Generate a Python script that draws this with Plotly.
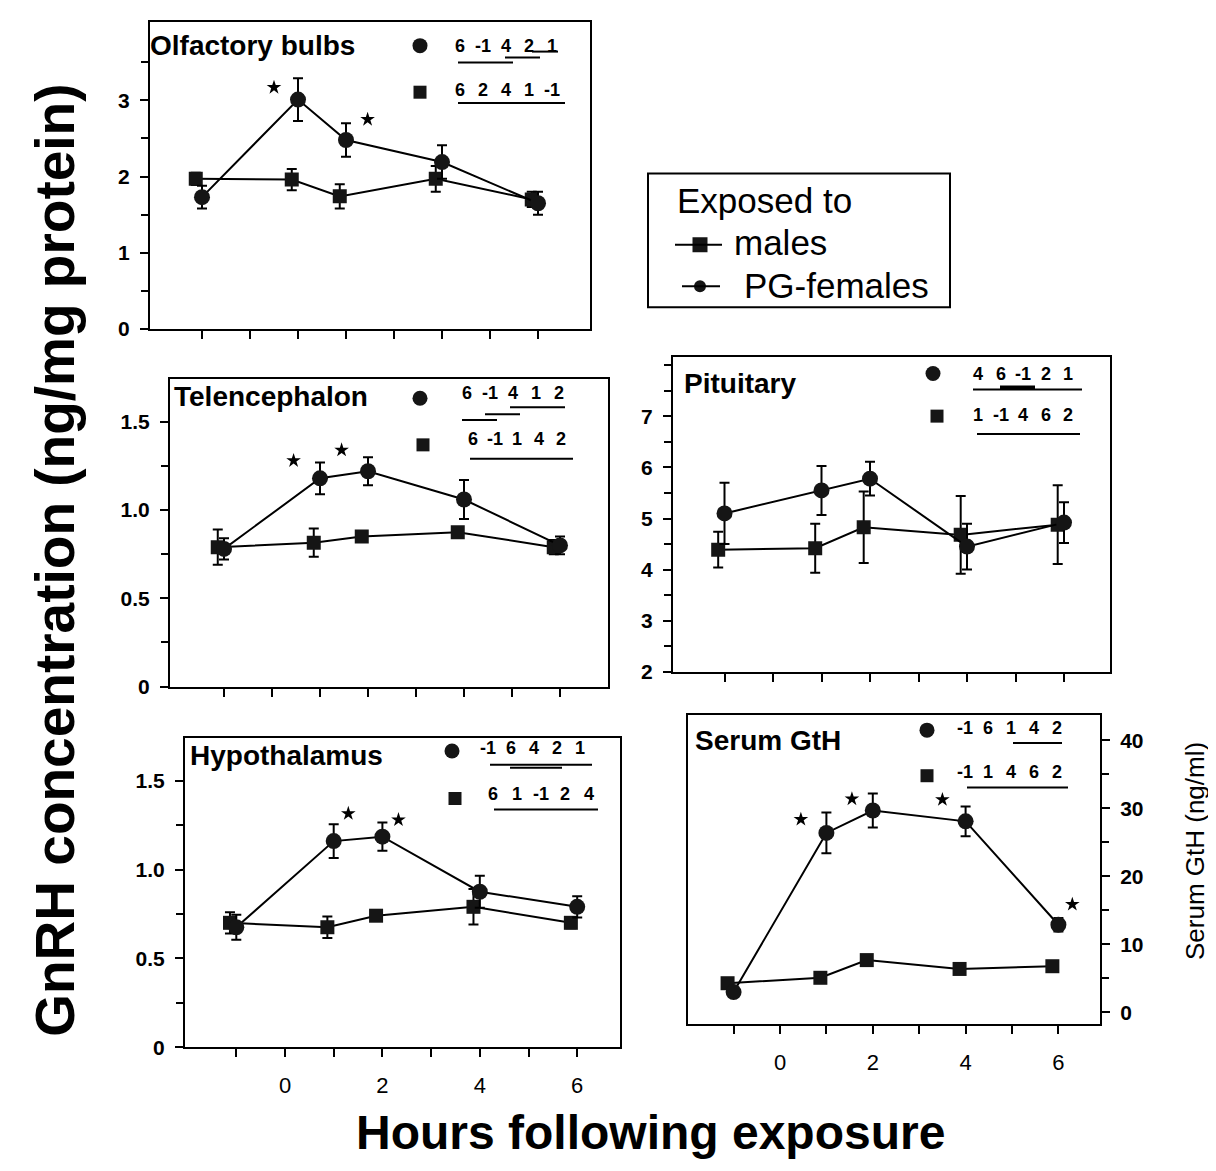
import plotly.graph_objects as go

W, H = 1216, 1171
OFF = 8  # page offset of the plot div (default body margin)
FONT = "Liberation Sans, Arial, sans-serif"

# ---------------- data ----------------
hours = [-1, 1, 2, 4, 6]

olf_fem = [1.73, 3.01, 2.48, 2.19, 1.65]
olf_fem_se = [0.15, 0.28, 0.22, 0.22, 0.15]
olf_male = [1.97, 1.96, 1.74, 1.97, 1.70]
olf_male_se = [0.08, 0.14, 0.16, 0.17, 0.10]

tel_fem = [0.78, 1.18, 1.22, 1.06, 0.80]
tel_fem_se = [0.06, 0.09, 0.08, 0.11, 0.05]
tel_male = [0.79, 0.815, 0.85, 0.875, 0.79]
tel_male_se = [0.10, 0.08, 0.02, 0.02, 0.04]

pit_fem = [5.10, 5.55, 5.78, 4.45, 4.92]
pit_fem_se = [0.60, 0.48, 0.33, 0.45, 0.40]
pit_male = [4.39, 4.42, 4.83, 4.68, 4.88]
pit_male_se = [0.35, 0.48, 0.70, 0.76, 0.77]

hyp_fem = [0.675, 1.16, 1.185, 0.875, 0.79]
hyp_fem_se = [0.07, 0.095, 0.08, 0.09, 0.06]
hyp_male = [0.70, 0.675, 0.74, 0.79, 0.70]
hyp_male_se = [0.06, 0.06, 0.02, 0.10, 0.03]

gth_fem = [3.0, 26.4, 29.7, 28.1, 12.9]
gth_fem_se = [0.5, 3.0, 2.5, 2.2, 1.0]
gth_male = [4.3, 5.1, 7.7, 6.4, 6.8]
gth_male_se = [0.4, 0.4, 0.5, 0.4, 0.4]

panel_titles = ["Olfactory bulbs", "Telencephalon", "Pituitary", "Hypothalamus", "Serum GtH"]

# ranking rows (circle row, square row)
olf_rank = (["6", "-1", "4", "2", "1"], ["6", "2", "4", "1", "-1"])
tel_rank = (["6", "-1", "4", "1", "2"], ["6", "-1", "1", "4", "2"])
pit_rank = (["4", "6", "-1", "2", "1"], ["1", "-1", "4", "6", "2"])
hyp_rank = (["-1", "6", "4", "2", "1"], ["6", "1", "-1", "2", "4"])
gth_rank = (["-1", "6", "1", "4", "2"], ["-1", "1", "4", "6", "2"])

# significant time points (females vs males)
olf_sig = [1, 2]
tel_sig = [1, 2]
pit_sig = []
hyp_sig = [1, 2]
gth_sig = [1, 2, 4, 6]

x_tick_vals = [0, 2, 4, 6]
x_minor_vals = [-1, 1, 3, 5]

# ---------------- layout geometry (page pixels) ----------------
panels = [
    dict(box=(150, 22, 590, 332), x0=250, pxh=48.0, yr=[0, 4.03],
         fem=olf_fem, fse=olf_fem_se, mal=olf_male, mse=olf_male_se,
         yt=[0, 1, 2, 3], ytt=["0", "1", "2", "3"], ym=[0.5, 1.5, 2.5, 3.5],
         rank=olf_rank, sig=olf_sig,
         star_off=[(-0.5, -0.12), (0.45, 0.05)]),
    dict(box=(170, 383, 608, 693), x0=272, pxh=48.0, yr=[0, 1.74],
         fem=tel_fem, fse=tel_fem_se, mal=tel_male, mse=tel_male_se,
         yt=[0, 0.5, 1.0, 1.5], ytt=["0", "0.5", "1.0", "1.5"], ym=[0.25, 0.75, 1.25],
         rank=tel_rank, sig=tel_sig,
         star_off=[(-0.55, 0.01), (-0.55, 0.04)]),
    dict(box=(673, 360, 1110, 678), x0=773, pxh=48.5, yr=[2, 8.17],
         fem=pit_fem, fse=pit_fem_se, mal=pit_male, mse=pit_male_se,
         yt=[2, 3, 4, 5, 6, 7], ytt=["2", "3", "4", "5", "6", "7"],
         ym=[2.5, 3.5, 4.5, 5.5, 6.5, 7.5, 8],
         rank=pit_rank, sig=pit_sig, star_off=[]),
    dict(box=(185, 745, 620, 1057), x0=285, pxh=48.7, yr=[0, 1.74],
         fem=hyp_fem, fse=hyp_fem_se, mal=hyp_male, mse=hyp_male_se,
         yt=[0, 0.5, 1.0, 1.5], ytt=["0", "0.5", "1.0", "1.5"], ym=[0.25, 0.75, 1.25],
         rank=hyp_rank, sig=hyp_sig,
         star_off=[(0.3, 0.06), (0.33, 0.015)]),
    dict(box=(688, 722, 1100, 1034), x0=780, pxh=46.4, yr=[-1.75, 43.7],
         fem=gth_fem, fse=gth_fem_se, mal=gth_male, mse=gth_male_se,
         yt=[0, 10, 20, 30, 40], ytt=["0", "10", "20", "30", "40"], ym=[5, 15, 25, 35],
         rank=gth_rank, sig=gth_sig,
         star_off=[(-0.55, -1.0), (-0.45, -0.8), (-0.5, 1.0), (0.3, 2.0)]),
]

title_pos = [(148, 46), (172, 400), (682, 387), (188, 763), (693, 747)]
rank_marker_pos = [((420, 46), (420, 93)), ((420, 402), (423, 449)), ((933, 377), (937, 420)),
                   ((452, 758), (455, 806)), ((927, 737), (927, 783))]
rank_text_pos = [((460, 46, 23), (460, 91, 23)), ((467, 397, 23), (473, 443, 22)),
                 ((978, 377, 22.5), (978, 419, 22.5)), ((488, 755, 23), (493, 801, 24)),
                 ((965, 735, 23), (965, 779, 23))]
underlines = [
    [(458, 513, 63, 2), (505, 540, 58, 2), (532, 558, 52, 2), (458, 565, 104, 2)],
    [(462, 497, 424, 2), (485, 520, 418, 2), (510, 565, 411, 2), (470, 573, 463, 2)],
    [(973, 1082, 393, 2), (1000, 1035, 391, 4), (977, 1080, 438, 2)],
    [(490, 592, 772, 2), (510, 562, 775, 2), (494, 598, 817, 2)],
    [(1013, 1062, 750, 2), (967, 1068, 795, 2)],
]

SQ_OFF = -0.13

fig = go.Figure()
layout = dict(width=W, height=H, margin=dict(l=0, r=0, t=0, b=0),
              paper_bgcolor="white", plot_bgcolor="rgba(0,0,0,0)", showlegend=False,
              font=dict(family=FONT, color="black"))
annotations = []
shapes = []

for i, p in enumerate(panels):
    k = i + 1
    L, T, R, B = p["box"]
    xr = [(L - p["x0"]) / p["pxh"], (R - p["x0"]) / p["pxh"]]
    xa = "x" if k == 1 else f"x{k}"
    ya = "y" if k == 1 else f"y{k}"
    bottom = k in (4, 5)
    layout["xaxis" if k == 1 else f"xaxis{k}"] = dict(
        domain=[(L - OFF) / W, (R - OFF) / W], range=xr, anchor=ya,
        showline=True, linecolor="black", linewidth=2, mirror=True,
        ticks="outside", ticklen=8, tickwidth=2, tickcolor="black",
        tickvals=x_tick_vals, ticktext=[str(v) for v in x_tick_vals],
        showticklabels=bottom, ticklabelstandoff=9,
        tickfont=dict(family=FONT, size=22, color="black"),
        minor=dict(tickvals=x_minor_vals, ticks="outside", ticklen=8, tickwidth=2, tickcolor="black"),
        showgrid=False, zeroline=False, fixedrange=True)
    layout["yaxis" if k == 1 else f"yaxis{k}"] = dict(
        domain=[1 - (B - OFF) / H, 1 - (T - OFF) / H], range=p["yr"], anchor=xa,
        side="right" if k == 5 else "left",
        showline=True, linecolor="black", linewidth=2, mirror=True,
        ticks="outside", ticklen=8, tickwidth=2, tickcolor="black",
        tickvals=p["yt"], ticktext=p["ytt"], ticklabelstandoff=6,
        tickfont=dict(family=FONT, size=21, color="black", weight="bold"),
        minor=dict(tickvals=p["ym"], ticks="outside", ticklen=7, tickwidth=2, tickcolor="black"),
        showgrid=False, zeroline=False, fixedrange=True)

    # males (squares)
    fig.add_trace(go.Scatter(
        x=[t + SQ_OFF for t in hours], y=p["mal"], xaxis=xa, yaxis=ya,
        mode="lines+markers", line=dict(color="black", width=2),
        marker=dict(symbol="square", size=14, color="#151515"),
        error_y=dict(type="data", array=p["mse"], visible=True, thickness=2, width=5, color="black"),
        name="males"))
    # PG-females (circles)
    fig.add_trace(go.Scatter(
        x=hours, y=p["fem"], xaxis=xa, yaxis=ya,
        mode="lines+markers", line=dict(color="black", width=2),
        marker=dict(symbol="circle", size=16, color="#151515"),
        error_y=dict(type="data", array=p["fse"], visible=True, thickness=2, width=5, color="black"),
        name="PG-females"))
    # significance stars
    if p["sig"]:
        sx, sy = [], []
        for t, (dx, dy) in zip(p["sig"], p["star_off"]):
            j = hours.index(t)
            sx.append(t + dx)
            sy.append(p["fem"][j] + p["fse"][j] + dy)
        fig.add_trace(go.Scatter(x=sx, y=sy, xaxis=xa, yaxis=ya, mode="markers",
                                 marker=dict(symbol="star", size=11, color="black"),
                                 hoverinfo="skip"))

# overlay canvas in page-pixel coordinates for decorations
layout["xaxis6"] = dict(domain=[0, 1], range=[OFF, W + OFF], anchor="y6", visible=False, fixedrange=True)
layout["yaxis6"] = dict(domain=[0, 1], range=[H + OFF, OFF], anchor="x6", visible=False, fixedrange=True)

for i, p in enumerate(panels):
    tx, ty = title_pos[i]
    annotations.append(dict(x=tx, y=ty, xref="x6", yref="y6", text=panel_titles[i], showarrow=False,
                            xanchor="left", yanchor="middle",
                            font=dict(family=FONT, size=28, color="black", weight="bold")))
    (cx, cy), (qx, qy) = rank_marker_pos[i]
    fig.add_trace(go.Scatter(x=[cx], y=[cy], xaxis="x6", yaxis="y6", mode="markers",
                             marker=dict(symbol="circle", size=15, color="#151515"), hoverinfo="skip"))
    fig.add_trace(go.Scatter(x=[qx], y=[qy], xaxis="x6", yaxis="y6", mode="markers",
                             marker=dict(symbol="square", size=13, color="#151515"), hoverinfo="skip"))
    for row, (x0, yy, step) in zip(p["rank"], rank_text_pos[i]):
        for n, tok in enumerate(row):
            annotations.append(dict(x=x0 + n * step, y=yy, xref="x6", yref="y6", text=tok,
                                    showarrow=False, xanchor="center", yanchor="middle",
                                    font=dict(family=FONT, size=18, color="black", weight="bold")))
    for (a, b, yy, w) in underlines[i]:
        shapes.append(dict(type="line", xref="x6", yref="y6", x0=a, x1=b, y0=yy, y1=yy,
                           line=dict(color="black", width=w)))

# legend box
shapes.append(dict(type="rect", xref="x6", yref="y6", x0=648, x1=950, y0=175, y1=310,
                   line=dict(color="black", width=2), fillcolor="white", layer="below"))
shapes.append(dict(type="line", xref="x6", yref="y6", x0=675, x1=722, y0=247, y1=247,
                   line=dict(color="black", width=2)))
shapes.append(dict(type="line", xref="x6", yref="y6", x0=682, x1=720, y0=289, y1=289,
                   line=dict(color="black", width=2)))
fig.add_trace(go.Scatter(x=[700], y=[247], xaxis="x6", yaxis="y6", mode="markers",
                         marker=dict(symbol="square", size=15, color="#151515"), hoverinfo="skip"))
fig.add_trace(go.Scatter(x=[700], y=[289], xaxis="x6", yaxis="y6", mode="markers",
                         marker=dict(symbol="circle", size=12, color="#151515"), hoverinfo="skip"))
legend_font = dict(family=FONT, size=35, color="black")
annotations.append(dict(x=675, y=202, xref="x6", yref="y6", text="Exposed to", showarrow=False,
                        xanchor="left", yanchor="middle", font=legend_font))
annotations.append(dict(x=732, y=245, xref="x6", yref="y6", text="males", showarrow=False,
                        xanchor="left", yanchor="middle", font=legend_font))
annotations.append(dict(x=742, y=288, xref="x6", yref="y6", text="PG-females", showarrow=False,
                        xanchor="left", yanchor="middle", font=legend_font))

# axis titles
annotations.append(dict(x=55, y=566, xref="x6", yref="y6", text="GnRH concentration (ng/mg protein)",
                        showarrow=False, textangle=-90, xanchor="center", yanchor="middle",
                        font=dict(family=FONT, size=55, color="black", weight="bold")))
annotations.append(dict(x=650, y=1143, xref="x6", yref="y6", text="Hours following exposure",
                        showarrow=False, xanchor="center", yanchor="middle",
                        font=dict(family=FONT, size=48, color="black", weight="bold")))
annotations.append(dict(x=1195, y=859, xref="x6", yref="y6", text="Serum GtH (ng/ml)",
                        showarrow=False, textangle=-90, xanchor="center", yanchor="middle",
                        font=dict(family=FONT, size=26, color="black")))

layout["annotations"] = annotations
layout["shapes"] = shapes
fig.update_layout(**layout)
fig.write_html("out.html")
